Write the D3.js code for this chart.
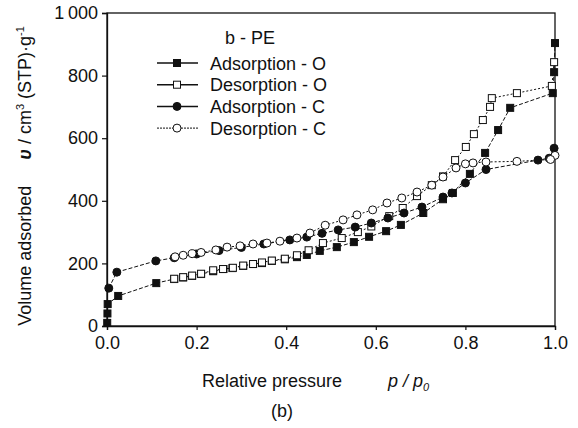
<!DOCTYPE html>
<html>
<head>
<meta charset="utf-8">
<script src="https://cdn.jsdelivr.net/npm/d3@7"></script>
<style>
  body { margin: 0; background: #fff; }
  svg text { font-family: "Liberation Sans", Arial, sans-serif; fill: #111; }
</style>
</head>
<body>
<div id="chart"></div>
<script>
// values: relative pressure p/p0, volume adsorbed
var adsO_p = [0.0005, 0.001, 0.0015, 0.025, 0.11, 0.15, 0.17, 0.19, 0.21, 0.237, 0.26, 0.28, 0.304, 0.326, 0.346, 0.368, 0.397, 0.424, 0.446, 0.475, 0.513, 0.551, 0.585, 0.623, 0.656, 0.706, 0.75, 0.772, 0.81, 0.844, 0.873, 0.9, 0.995, 0.998, 1.0];
var adsO_v = [10, 40, 70, 96, 137, 150, 155, 160, 166, 175, 182, 185, 192, 198, 201, 208, 213, 220, 227, 240, 252, 268, 285, 303, 323, 361, 405, 425, 486, 553, 626, 697, 744, 811, 904];

var desO_p = [0.998, 0.993, 0.915, 0.859, 0.855, 0.839, 0.819, 0.801, 0.777, 0.75, 0.725, 0.692, 0.66, 0.63, 0.59, 0.56, 0.524, 0.482, 0.45, 0.424, 0.397, 0.368, 0.346, 0.326, 0.304, 0.281, 0.259, 0.237, 0.21, 0.19, 0.17, 0.15];
var desO_v = [843, 767, 744, 728, 700, 658, 613, 572, 530, 478, 450, 415, 377, 351, 318, 300, 281, 265, 242, 226, 215, 209, 203, 198, 193, 186, 182, 178, 167, 161, 156, 151];

var adsC_p = [0.004, 0.022, 0.109, 0.15, 0.2, 0.25, 0.3, 0.35, 0.408, 0.446, 0.48, 0.516, 0.554, 0.59, 0.627, 0.663, 0.703, 0.75, 0.77, 0.8, 0.846, 0.962, 0.987, 0.998];
var adsC_v = [121, 172, 208, 218, 230, 241, 251, 262, 275, 284, 296, 307, 316, 329, 345, 361, 380, 412, 425, 457, 500, 530, 536, 568];

var desC_p = [1.0, 0.99, 0.915, 0.846, 0.817, 0.8, 0.779, 0.75, 0.725, 0.692, 0.658, 0.625, 0.593, 0.558, 0.527, 0.487, 0.453, 0.424, 0.386, 0.357, 0.326, 0.297, 0.268, 0.243, 0.21, 0.19, 0.17, 0.152];
var desC_v = [545, 532, 526, 524, 521, 518, 505, 476, 450, 428, 409, 393, 371, 355, 339, 322, 297, 281, 271, 265, 262, 256, 252, 243, 235, 231, 226, 221];

var seriesNames = ["Adsorption - O", "Desorption - O", "Adsorption - C", "Desorption - C"];
var xTicks = [0, 0.2, 0.4, 0.6, 0.8, 1.0];
var yTicks = [0, 200, 400, 600, 800, 1000];

var series = [
    { name: seriesNames[0], p: adsO_p, v: adsO_v, shape: "square", filled: true },
    { name: seriesNames[1], p: desO_p, v: desO_v, shape: "square", filled: false },
    { name: seriesNames[2], p: adsC_p, v: adsC_v, shape: "circle", filled: true },
    { name: seriesNames[3], p: desC_p, v: desC_v, shape: "circle", filled: false }
];

var W = 578, H = 428;
var margin = { left: 107, right: 555, top: 13, bottom: 326 };
var ink = "#111";

var svg = d3.select("#chart").append("svg")
    .attr("width", W)
    .attr("height", H);

var x = d3.scaleLinear().domain([0, 1]).range([margin.left, margin.right]);
var y = d3.scaleLinear().domain([0, 1000]).range([margin.bottom, margin.top]);

// frame
svg.append("rect")
    .attr("x", margin.left).attr("y", margin.top)
    .attr("width", margin.right - margin.left).attr("height", margin.bottom - margin.top)
    .attr("fill", "none").attr("stroke", ink).attr("stroke-width", 1.3);

var xAxis = svg.append("g")
    .attr("transform", "translate(0," + margin.bottom + ")")
    .call(d3.axisBottom(x).tickValues(xTicks).tickSize(4).tickPadding(6).tickFormat(d3.format(".1f")));
var yAxis = svg.append("g")
    .attr("transform", "translate(" + margin.left + ",0)")
    .call(d3.axisLeft(y).tickValues(yTicks).tickSize(5).tickPadding(4)
        .tickFormat(d => d == 1000 ? "1\u2009000" : d));

[xAxis, yAxis].forEach(function (g) {
    g.select(".domain").attr("stroke", ink).attr("stroke-width", 1.3);
    g.selectAll(".tick line").attr("stroke", ink).attr("stroke-width", 1.2);
    g.selectAll(".tick text").attr("font-size", 18).attr("fill", ink)
        .attr("font-family", "Liberation Sans, Arial, sans-serif");
});

function drawMarker(g, s, cx, cy) {
    if (s.shape == "square") {
        g.append("rect")
            .attr("x", cx - 3.5).attr("y", cy - 3.5)
            .attr("width", 7).attr("height", 7)
            .attr("fill", s.filled ? ink : "#fff")
            .attr("stroke", ink).attr("stroke-width", 1);
    } else {
        g.append("circle")
            .attr("cx", cx).attr("cy", cy).attr("r", 4)
            .attr("fill", s.filled ? ink : "#fff")
            .attr("stroke", ink).attr("stroke-width", 1);
    }
}

var line = d3.line().x(d => x(d[0])).y(d => y(d[1]));

// lines first, then markers on top
series.forEach(function (s) {
    var pts = s.p.map((p, i) => [p, s.v[i]]);
    svg.append("path")
        .datum(pts)
        .attr("d", line)
        .attr("fill", "none")
        .attr("stroke", ink)
        .attr("stroke-width", 1)
        .attr("stroke-dasharray", s.filled ? "4,2" : "2,2");
});
series.forEach(function (s) {
    var g = svg.append("g");
    s.p.forEach((p, i) => drawMarker(g, s, x(p), y(s.v[i])));
});

// legend
var legend = svg.append("g");
legend.append("text")
    .attr("x", 225).attr("y", 44)
    .attr("font-size", 18)
    .text("b - PE");
series.forEach(function (s, i) {
    var ly = 63 + i * 21.7;
    legend.append("line")
        .attr("x1", 157).attr("x2", 198)
        .attr("y1", ly).attr("y2", ly)
        .attr("stroke", ink)
        .attr("stroke-width", i == 3 ? 1 : 1.5)
        .attr("stroke-dasharray", i == 3 ? "2,1" : null);
    drawMarker(legend, s, 177, ly);
    legend.append("text")
        .attr("x", 210).attr("y", ly + 6.5)
        .attr("font-size", 18)
        .text(s.name);
});

// y axis title
var yt = svg.append("text")
    .attr("transform", "translate(31,176) rotate(-90)")
    .attr("text-anchor", "middle")
    .attr("font-size", 18);
yt.append("tspan").text("Volume adsorbed");
yt.append("tspan").attr("dx", 26).attr("font-style", "italic").attr("font-weight", "bold").text("\u03c5");
yt.append("tspan").text(" / cm");
yt.append("tspan").attr("font-size", 11).attr("dy", -7).text("3");
yt.append("tspan").attr("dy", 7).text(" (STP)\u00b7g");
yt.append("tspan").attr("font-size", 11).attr("dy", -7).text("-1");

// x axis title
svg.append("text")
    .attr("x", 202).attr("y", 387)
    .attr("font-size", 18)
    .text("Relative pressure");
var xt = svg.append("text")
    .attr("x", 388).attr("y", 387)
    .attr("font-size", 18)
    .attr("font-style", "italic");
xt.append("tspan").text("p / p");
xt.append("tspan").attr("font-size", 11).attr("dy", 4).text("0");

svg.append("text")
    .attr("x", 282).attr("y", 417)
    .attr("text-anchor", "middle")
    .attr("font-size", 18)
    .text("(b)");
</script>
</body>
</html>
